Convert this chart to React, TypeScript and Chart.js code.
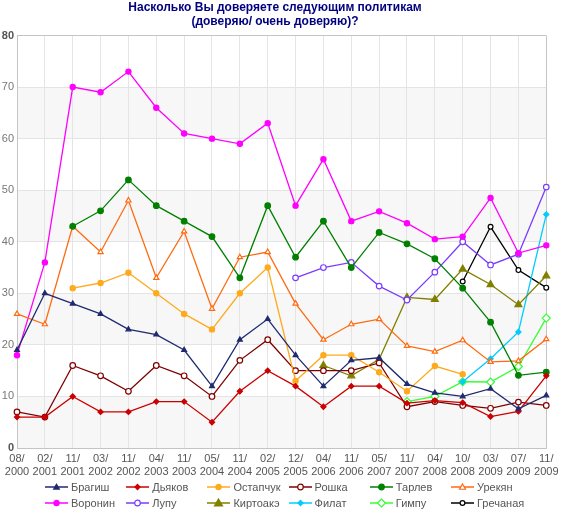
import React, { useEffect, useRef } from "react";
import { Chart, registerables } from "chart.js";
Chart.register(...registerables);

const months = ["08/", "02/", "11/", "03/", "11/", "04/", "11/", "05/", "11/", "02/", "12/", "04/", "11/", "05/", "11/", "04/", "10/", "03/", "07/", "11/"];
const years = ["2000", "2001", "2001", "2002", "2002", "2003", "2003", "2004", "2004", "2005", "2005", "2006", "2006", "2007", "2007", "2008", "2008", "2009", "2009", "2009"];

const N = null;
const bragish = [19, 30, 28, 26, 23, 22, 19, 12, 21, 25, 18, 12, 17, 17.5, 12.4, 10.7, 10, 11.5, 7.6, 10.2];
const dyakov = [6, 6, 10, 7, 7, 9, 9, 5, 11, 15, 12, 8, 12, 12, 8.7, 9.2, 8.8, 6.1, 7.1, 14];
const ostapchuk = [N, N, 31, 32, 34, 30, 26, 23, 30, 35, 13, 18, 18, 14.7, 11, 15.9, 14.3, N, N, N];
const roshka = [7, 6, 16, 14, 11, 16, 14, 10, 17, 21, 15, 15, 15, 16.5, 8, 9, 8.25, 7.7, 8.9, 8.25];
const tarlev = [N, N, 43, 46, 52, 47, 44, 41, 33, 47, 37, 44, 35, 41.8, 39.6, 36.7, 31, 24.4, 14.1, 14.7];
const urekyan = [26, 24, 43, 38, 48, 33, 42, 27, 37, 38, 28, 21, 24, 25, 19.8, 18.7, 20.9, 16.7, 16.9, 21.1];
const voronin = [18, 36, 70, 69, 73, 66, 61, 60, 59, 63, 47, 56, 44, 45.9, 43.6, 40.5, 41, 48.5, 37.8, 39.3];
const lupu = [N, N, N, N, N, N, N, N, N, N, 33, 35, 36, 31.4, 28.7, 34.1, 40, 35.5, 37.6, 50.6];
const kirtoake = [N, N, N, N, N, N, N, N, N, N, N, 16, 14, 17.2, 29.2, 28.8, 34.7, 31.7, 27.8, 33.4];
const filat = [N, N, N, N, N, N, N, N, N, N, N, N, N, N, N, N, 12.85, 17.3, 22.5, 45.3];
const gimpu = [N, N, N, N, N, N, N, N, N, N, N, N, N, N, 9, 10, 12.85, 12.8, 15.8, 25.2];
const grechanaya = [N, N, N, N, N, N, N, N, N, N, N, N, N, N, N, N, 32.3, 42.9, 34.5, 31.1];

const titleLines = ["Насколько Вы доверяете следующим политикам", "(доверяю/ очень доверяю)?"];
const yMin = 0;
const yMax = 80;
const yStep = 10;

type Marker = { shape: "circle" | "triangle" | "rectRot"; r: number; filled: boolean };
type S = { name: string; data: (number | null)[]; color: string; m: Marker };

const series: S[] = [
  { name: "Брагиш", data: bragish, color: "#1F2A70", m: { shape: "triangle", r: 2.8, filled: true } },
  { name: "Дьяков", data: dyakov, color: "#CC0000", m: { shape: "rectRot", r: 2.6, filled: true } },
  { name: "Остапчук", data: ostapchuk, color: "#FFAA1D", m: { shape: "circle", r: 2.6, filled: true } },
  { name: "Рошка", data: roshka, color: "#800000", m: { shape: "circle", r: 2.8, filled: false } },
  { name: "Тарлев", data: tarlev, color: "#008000", m: { shape: "circle", r: 2.8, filled: true } },
  { name: "Урекян", data: urekyan, color: "#FF6A10", m: { shape: "triangle", r: 3, filled: false } },
  { name: "Воронин", data: voronin, color: "#FF00FF", m: { shape: "circle", r: 2.6, filled: true } },
  { name: "Лупу", data: lupu, color: "#7A3CFF", m: { shape: "circle", r: 2.8, filled: false } },
  { name: "Киртоакэ", data: kirtoake, color: "#808000", m: { shape: "triangle", r: 4, filled: true } },
  { name: "Филат", data: filat, color: "#00CCFF", m: { shape: "rectRot", r: 2.6, filled: true } },
  { name: "Гимпу", data: gimpu, color: "#33FF33", m: { shape: "rectRot", r: 4, filled: false } },
  { name: "Гречаная", data: grechanaya, color: "#000000", m: { shape: "circle", r: 2.4, filled: false } },
];

const FONT = "'Liberation Sans', Arial, sans-serif";

function LegendMarker({ s }: { s: S }) {
  const cx = 11.5, cy = 5;
  const { shape, r, filled } = s.m;
  const fill = filled ? s.color : "#fff";
  let mark: React.ReactNode;
  if (shape === "circle") mark = <circle cx={cx} cy={cy} r={r} fill={fill} stroke={s.color} strokeWidth={1.2} />;
  else if (shape === "triangle") {
    const h = r * 1.5;
    mark = <polygon points={`${cx},${cy - h * 0.66} ${cx + r},${cy + h * 0.5} ${cx - r},${cy + h * 0.5}`} fill={fill} stroke={s.color} strokeWidth={1.2} />;
  } else mark = <polygon points={`${cx},${cy - r} ${cx + r},${cy} ${cx},${cy + r} ${cx - r},${cy}`} fill={fill} stroke={s.color} strokeWidth={1.2} />;
  return (
    <svg width={23} height={10} style={{ position: "absolute", left: 0, top: -5, overflow: "visible" }}>
      <line x1={0} y1={cy} x2={23} y2={cy} stroke={s.color} strokeWidth={1.5} />
      {mark}
    </svg>
  );
}

export default function App() {
  const ref = useRef<HTMLCanvasElement>(null);
  useEffect(() => {
    const canvas = ref.current!;
    const bands = {
      id: "bands",
      beforeDraw(chart: any) {
        const { ctx, chartArea, scales } = chart;
        const y = scales.y;
        ctx.save();
        ctx.fillStyle = "#F7F7F7";
        for (let v = yMin; v < yMax; v += yStep * 2) {
          const top = y.getPixelForValue(v + yStep);
          const bot = y.getPixelForValue(v);
          ctx.fillRect(chartArea.left, top, chartArea.right - chartArea.left, bot - top);
        }
        ctx.restore();
      },
    };
    const chart = new Chart(canvas, {
      type: "line",
      data: {
        labels: months.map((m, i) => [m, years[i]]),
        datasets: series.map((s) => ({
          label: s.name,
          data: s.data,
          borderColor: s.color,
          backgroundColor: s.m.filled ? s.color : "#FFFFFF",
          pointBorderColor: s.color,
          pointBackgroundColor: s.m.filled ? s.color : "#FFFFFF",
          pointStyle: s.m.shape,
          pointRadius: s.m.r,
          pointBorderWidth: 1.2,
          borderWidth: 1.3,
          tension: 0,
          spanGaps: false,
          fill: false,
        })),
      },
      options: {
        responsive: false,
        devicePixelRatio: 1,
        animation: false,
        layout: { padding: { left: 0, right: 13, top: 0, bottom: 0 } },
        plugins: {
          legend: { display: false },
          tooltip: { enabled: false },
          title: {
            display: true,
            text: titleLines,
            color: "#000080",
            font: { family: FONT, size: 12, weight: "bold", lineHeight: 14 / 12 },
            padding: { top: 1, bottom: 6.5 },
          },
        },
        scales: {
          x: {
            type: "category",
            offset: false,
            grid: {
              color: (c: any) => (c.index === months.length - 1 ? "#C4C4C4" : "#E4E4E4"),
              drawTicks: false,
              lineWidth: 1,
            },
            border: { color: "#C4C4C4", width: 1 },
            ticks: {
              autoSkip: false,
              maxRotation: 0,
              minRotation: 0,
              padding: 4.5,
              color: "#555555",
              font: { family: FONT, size: 11, lineHeight: 13 / 11 },
            },
            afterFit: (s: any) => {
              s.height = 64;
            },
          },
          y: {
            min: yMin,
            max: yMax,
            grid: {
              color: (c: any) => (c.tick && c.tick.value === yMax ? "#C4C4C4" : "#E4E4E4"),
              drawTicks: false,
              lineWidth: 1,
            },
            border: { color: "#C4C4C4", width: 1 },
            ticks: {
              stepSize: yStep,
              padding: 3,
              color: (c: any) => (c.tick && (c.tick.value === yMin || c.tick.value === yMax) ? "#555555" : "#777777"),
              font: (c: any) => ({
                family: FONT,
                size: 11,
                weight: c.tick && (c.tick.value === yMin || c.tick.value === yMax) ? "bold" : "normal",
              }),
            },
            afterFit: (s: any) => {
              s.width = 17;
            },
          },
        },
      },
      plugins: [bands],
    } as any);
    return () => chart.destroy();
  }, []);

  return (
    <div style={{ position: "fixed", left: 0, top: 0, width: 563, height: 512, background: "#fff" }}>
      <canvas ref={ref} width={563} height={512} style={{ position: "absolute", left: 0, top: 0, width: 563, height: 512 }} />
      {series.map((s, i) => {
        const col = i % 6;
        const row = Math.floor(i / 6);
        const left = 45 + col * 81.2;
        const top = 487 + row * 16;
        return (
          <div key={s.name} style={{ position: "absolute", left, top, height: 0 }}>
            <LegendMarker s={s} />
            <span
              style={{
                position: "absolute",
                left: 26,
                top: -7,
                fontFamily: FONT,
                fontSize: 11,
                lineHeight: "14px",
                color: "#555555",
                whiteSpace: "nowrap",
              }}
            >
              {s.name}
            </span>
          </div>
        );
      })}
    </div>
  );
}
